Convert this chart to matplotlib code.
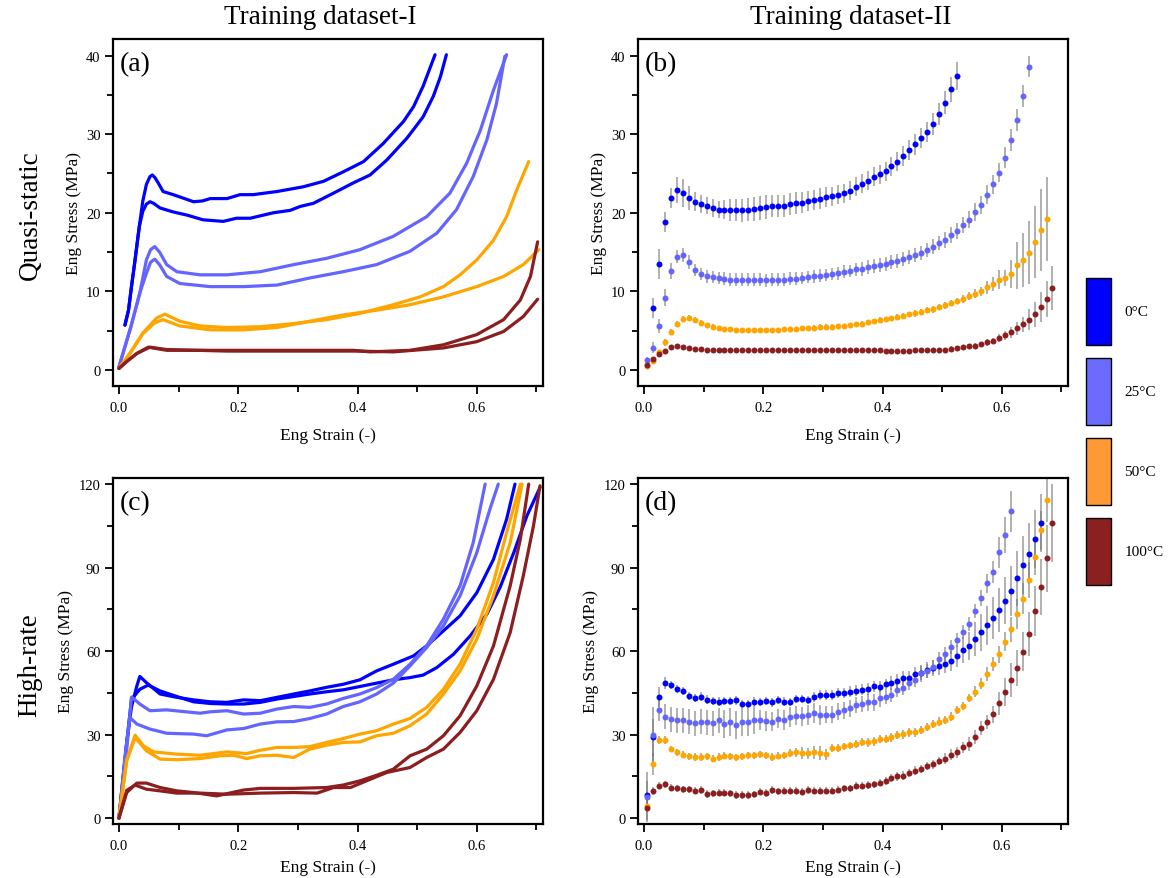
import numpy as np
import matplotlib
matplotlib.use('Agg')
import matplotlib.pyplot as plt
from matplotlib.patches import Patch
from matplotlib.ticker import MultipleLocator

plt.rcParams['font.family'] = ['Liberation Serif', 'DejaVu Serif']

# colours
c_0 = '#0000FF'
c_25 = '#6464FF'
c_50 = '#FFA500'
c_100 = '#8B1E1E'
leg_colors = ['#0000FF', '#6B6BFF', '#FF9933', '#8B2020']
leg_labels = ['0°C', '25°C', '50°C', '100°C']

# ---------------- (a) quasi-static, dataset I ----------------
qs_x_0C_1 = [0.010, 0.016, 0.021, 0.027, 0.034, 0.040, 0.046, 0.052, 0.056, 0.060, 0.065, 0.074, 0.091, 0.110,
             0.125, 0.140, 0.153, 0.181, 0.203, 0.225, 0.265, 0.309, 0.343, 0.376, 0.410, 0.443, 0.477, 0.494,
             0.510, 0.530]
qs_y_0C_1 = [5.7, 7.6, 10.6, 14.0, 18.2, 21.5, 23.6, 24.6, 24.8, 24.5, 23.9, 22.7, 22.3, 21.8,
             21.4, 21.5, 21.8, 21.8, 22.3, 22.3, 22.7, 23.3, 24.0, 25.2, 26.5, 28.8, 31.6, 33.5,
             36.1, 40.1]
qs_x_0C_2 = [0.010, 0.016, 0.021, 0.027, 0.034, 0.040, 0.046, 0.052, 0.058, 0.069, 0.091, 0.114, 0.141, 0.175,
             0.197, 0.220, 0.259, 0.287, 0.304, 0.326, 0.360, 0.393, 0.421, 0.449, 0.483, 0.510, 0.527, 0.539,
             0.549]
qs_y_0C_2 = [5.7, 7.6, 10.6, 14.0, 18.2, 20.2, 21.1, 21.4, 21.2, 20.6, 20.1, 19.7, 19.1, 18.9,
             19.3, 19.3, 20.0, 20.3, 20.8, 21.2, 22.5, 23.8, 24.8, 26.7, 29.5, 32.2, 34.8, 37.3,
             40.1]
qs_x_25C_1 = [0.000, 0.020, 0.035, 0.046, 0.053, 0.060, 0.068, 0.080, 0.097, 0.136, 0.181, 0.237, 0.293, 0.348,
              0.404, 0.460, 0.516, 0.555, 0.583, 0.606, 0.628, 0.650]
qs_y_25C_1 = [0.4, 5.5, 9.8, 14.0, 15.3, 15.7, 15.0, 13.4, 12.5, 12.1, 12.1, 12.5, 13.4, 14.2,
              15.3, 17.0, 19.5, 22.5, 26.3, 30.5, 35.6, 40.1]
qs_x_25C_2 = [0.000, 0.020, 0.035, 0.046, 0.053, 0.060, 0.068, 0.080, 0.102, 0.153, 0.209, 0.265, 0.320, 0.376,
              0.432, 0.488, 0.533, 0.566, 0.594, 0.617, 0.633, 0.647]
qs_y_25C_2 = [0.4, 5.5, 9.8, 12.3, 13.7, 14.1, 13.4, 11.9, 11.0, 10.6, 10.6, 10.8, 11.7, 12.5,
              13.4, 15.1, 17.4, 20.4, 24.6, 29.3, 33.9, 39.9]
qs_x_50C_1 = [0.000, 0.020, 0.040, 0.063, 0.077, 0.102, 0.136, 0.181, 0.237, 0.293, 0.348, 0.404, 0.460, 0.505,
              0.544, 0.572, 0.600, 0.628, 0.650, 0.667, 0.687]
qs_y_50C_1 = [0.2, 2.3, 4.7, 6.6, 7.1, 6.2, 5.6, 5.4, 5.5, 5.9, 6.4, 7.2, 8.3, 9.3,
              10.6, 12.1, 14.0, 16.5, 19.5, 22.9, 26.5]
qs_x_50C_2 = [0.000, 0.020, 0.040, 0.060, 0.074, 0.102, 0.153, 0.209, 0.265, 0.320, 0.376, 0.432, 0.488, 0.544,
              0.600, 0.645, 0.678, 0.704]
qs_y_50C_2 = [0.2, 2.3, 4.6, 6.0, 6.4, 5.6, 5.1, 5.1, 5.4, 6.2, 7.0, 7.6, 8.3, 9.3,
              10.6, 11.9, 13.4, 15.3]
qs_x_100C_1 = [0.000, 0.015, 0.030, 0.049, 0.080, 0.181, 0.293, 0.393, 0.421, 0.488, 0.544, 0.600, 0.645, 0.673,
               0.690, 0.702]
qs_y_100C_1 = [0.2, 1.2, 2.1, 2.9, 2.5, 2.5, 2.5, 2.5, 2.3, 2.5, 3.2, 4.5, 6.4, 8.9, 11.9, 16.3]
qs_x_100C_2 = [0.000, 0.015, 0.030, 0.052, 0.080, 0.181, 0.293, 0.400, 0.460, 0.544, 0.600, 0.645, 0.678, 0.702]
qs_y_100C_2 = [0.2, 1.2, 2.1, 2.9, 2.6, 2.4, 2.4, 2.4, 2.3, 2.8, 3.6, 4.9, 6.8, 9.0]

# ---------------- (c) high-rate, dataset I ----------------
hr_x_0C_1 = [0.000, 0.013, 0.021, 0.030, 0.035, 0.046, 0.069, 0.097, 0.125, 0.153, 0.181, 0.209, 0.237, 0.265,
             0.293, 0.320, 0.348, 0.376, 0.404, 0.432, 0.460, 0.494, 0.516, 0.544, 0.572, 0.600, 0.628, 0.650, 0.664]
hr_y_0C_1 = [0.0, 27.0, 40.0, 47.5, 50.9, 48.7, 44.6, 43.4, 42.5, 41.8, 41.6, 42.5, 42.2, 43.4,
             44.6, 45.7, 47.0, 48.1, 49.7, 52.9, 55.3, 58.3, 61.9, 67.3, 72.7, 81.0, 93.0, 107.4, 120.0]
hr_x_0C_2 = [0.000, 0.013, 0.021, 0.035, 0.049, 0.069, 0.097, 0.125, 0.153, 0.181, 0.209, 0.237, 0.265, 0.293,
             0.320, 0.348, 0.376, 0.404, 0.432, 0.460, 0.488, 0.510, 0.533, 0.561, 0.589, 0.617, 0.639, 0.662,
             0.684, 0.706]
hr_y_0C_2 = [0.0, 27.0, 42.7, 46.3, 47.8, 45.7, 43.7, 41.8, 41.2, 41.0, 41.0, 41.6, 42.8, 43.7,
             44.6, 45.4, 46.1, 47.3, 48.5, 49.7, 50.5, 51.4, 54.1, 58.9, 65.5, 73.3, 82.9, 95.4,
             108.6, 118.8]
hr_x_25C_1 = [0.000, 0.013, 0.021, 0.035, 0.052, 0.080, 0.108, 0.136, 0.153, 0.181, 0.209, 0.237, 0.265, 0.293,
              0.320, 0.348, 0.376, 0.404, 0.432, 0.460, 0.488, 0.516, 0.544, 0.572, 0.594, 0.614]
hr_y_25C_1 = [0.0, 24.7, 43.5, 41.0, 38.6, 38.9, 38.3, 37.7, 38.2, 38.6, 37.4, 37.7, 39.2, 40.1,
              39.8, 41.0, 43.0, 44.6, 46.9, 49.9, 55.3, 61.9, 71.5, 83.5, 99.0, 120.0]
hr_x_25C_2 = [0.000, 0.010, 0.018, 0.030, 0.052, 0.080, 0.125, 0.147, 0.181, 0.209, 0.237, 0.265, 0.293, 0.320,
              0.348, 0.376, 0.404, 0.432, 0.460, 0.488, 0.516, 0.544, 0.572, 0.600, 0.622, 0.636]
hr_y_25C_2 = [0.0, 22.0, 36.2, 33.8, 32.0, 30.5, 30.2, 29.6, 31.7, 32.2, 33.8, 34.6, 34.7, 35.8,
              37.4, 40.1, 41.8, 44.6, 48.5, 54.7, 61.3, 69.1, 79.9, 95.4, 111.0, 120.0]
hr_x_50C_1 = [0.000, 0.013, 0.027, 0.041, 0.058, 0.097, 0.136, 0.181, 0.214, 0.237, 0.265, 0.293, 0.320, 0.348,
              0.376, 0.404, 0.432, 0.460, 0.488, 0.516, 0.544, 0.572, 0.600, 0.628, 0.650, 0.673]
hr_y_50C_1 = [0.0, 21.0, 29.8, 26.0, 23.8, 23.0, 22.6, 23.8, 23.2, 24.4, 25.4, 25.4, 25.7, 27.2,
              28.6, 30.2, 31.4, 33.8, 35.8, 39.8, 46.3, 55.3, 67.9, 84.7, 102.6, 120.0]
hr_x_50C_2 = [0.000, 0.013, 0.027, 0.046, 0.069, 0.097, 0.136, 0.169, 0.192, 0.214, 0.237, 0.265, 0.293, 0.320,
              0.348, 0.376, 0.404, 0.432, 0.460, 0.488, 0.516, 0.544, 0.572, 0.600, 0.628, 0.656, 0.676]
hr_y_50C_2 = [0.0, 20.5, 29.0, 24.2, 21.2, 21.0, 21.4, 22.4, 22.6, 21.4, 22.4, 22.6, 21.8, 24.8,
              26.2, 27.2, 27.4, 29.6, 30.5, 33.2, 37.4, 44.6, 52.9, 64.3, 79.9, 99.0, 120.0]
hr_x_100C_1 = [0.000, 0.013, 0.030, 0.046, 0.069, 0.097, 0.125, 0.164, 0.209, 0.237, 0.293, 0.348, 0.376, 0.404,
               0.432, 0.460, 0.488, 0.516, 0.544, 0.572, 0.600, 0.628, 0.656, 0.673, 0.687]
hr_y_100C_1 = [0.0, 9.2, 12.6, 12.6, 11.0, 9.8, 9.2, 8.0, 10.1, 10.7, 10.7, 11.0, 11.9, 13.4,
               15.4, 17.6, 22.4, 24.8, 29.6, 36.8, 47.5, 61.9, 83.5, 100.2, 120.0]
hr_x_100C_2 = [0.000, 0.013, 0.027, 0.046, 0.069, 0.097, 0.136, 0.181, 0.237, 0.293, 0.332, 0.360, 0.388, 0.415,
               0.449, 0.488, 0.516, 0.544, 0.572, 0.600, 0.628, 0.656, 0.678, 0.695, 0.706]
hr_y_100C_2 = [0.0, 10.0, 11.9, 10.4, 9.8, 9.0, 9.0, 8.6, 9.0, 9.2, 9.0, 11.0, 11.0, 13.4,
               16.4, 18.2, 21.8, 24.8, 30.8, 38.6, 49.9, 66.7, 87.1, 105.0, 119.4]

# ---------------- dataset II: mean +- std on a 0.01 strain grid ----------------
strain_grid = np.arange(69) * 0.01 + 0.005

# (b) quasi-static
qs2_0C = [7.9, 13.5, 18.8, 21.9, 22.9, 22.5, 21.9, 21.4, 21.1, 20.9,
          20.6, 20.4, 20.4, 20.3, 20.3, 20.3, 20.4, 20.5, 20.6, 20.7,
          20.8, 20.8, 20.9, 21.1, 21.2, 21.3, 21.5, 21.6, 21.8, 22.0,
          22.1, 22.3, 22.5, 22.8, 23.3, 23.7, 24.1, 24.6, 24.9, 25.3,
          25.9, 26.5, 27.2, 28.0, 28.7, 29.5, 30.3, 31.3, 32.6, 34.0,
          35.7, 37.4]
qs2_0C_err = [1.3, 1.9, 1.3, 1.3, 1.7, 1.8, 1.5, 1.2, 1.1, 1.1,
              1.1, 1.1, 1.2, 1.4, 1.4, 1.5, 1.5, 1.5, 1.5, 1.5,
              1.4, 1.4, 1.4, 1.4, 1.4, 1.3, 1.3, 1.3, 1.3, 1.3,
              1.2, 1.2, 1.2, 1.2, 1.2, 1.2, 1.2, 1.2, 1.2, 1.2,
              1.2, 1.2, 1.3, 1.3, 1.3, 1.3, 1.3, 1.4, 1.4, 1.5,
              1.6, 1.8]
qs2_25C = [1.3, 2.8, 5.6, 9.2, 12.6, 14.4, 14.6, 13.7, 12.7, 12.2,
           11.9, 11.8, 11.7, 11.6, 11.5, 11.5, 11.5, 11.5, 11.5, 11.5,
           11.4, 11.5, 11.5, 11.5, 11.6, 11.6, 11.7, 11.8, 11.9, 12.0,
           12.1, 12.2, 12.3, 12.5, 12.6, 12.8, 12.8, 13.1, 13.2, 13.3,
           13.5, 13.7, 13.9, 14.1, 14.4, 14.6, 14.9, 15.3, 15.7, 16.2,
           16.5, 17.2, 17.7, 18.4, 19.1, 20.1, 21.0, 22.3, 23.6, 25.1,
           27.0, 29.2, 31.8, 34.9, 38.6]
qs2_25C_err = [0.3, 0.7, 0.9, 1.1, 1.0, 0.8, 0.9, 0.9, 0.8, 0.8,
               0.8, 0.8, 0.8, 0.8, 0.8, 0.8, 0.8, 0.8, 0.8, 0.8,
               0.8, 0.8, 0.8, 0.8, 0.8, 0.8, 0.8, 0.8, 0.8, 0.8,
               0.8, 0.8, 0.8, 0.8, 0.8, 0.8, 0.9, 0.9, 0.9, 0.9,
               0.9, 0.9, 0.9, 0.9, 0.9, 0.9, 0.9, 0.9, 0.9, 0.9,
               1.0, 1.0, 1.0, 1.0, 1.1, 1.1, 1.1, 1.2, 1.2, 1.2,
               1.3, 1.4, 1.4, 1.4, 1.35]
qs2_50C = [0.5, 1.2, 2.3, 3.5, 4.8, 5.9, 6.5, 6.6, 6.4, 6.0,
           5.7, 5.5, 5.3, 5.2, 5.2, 5.1, 5.1, 5.1, 5.1, 5.1,
           5.1, 5.1, 5.1, 5.2, 5.2, 5.2, 5.3, 5.3, 5.4, 5.5,
           5.5, 5.5, 5.6, 5.6, 5.7, 5.8, 5.9, 6.1, 6.2, 6.4,
           6.5, 6.6, 6.8, 6.9, 7.1, 7.2, 7.4, 7.6, 7.7, 8.0,
           8.2, 8.5, 8.8, 9.0, 9.4, 9.7, 10.0, 10.5, 10.9, 11.5,
           11.7, 12.2, 13.3, 14.0, 14.9, 16.3, 17.8, 19.2]
qs2_50C_err = [0.2, 0.3, 0.3, 0.4, 0.4, 0.3, 0.4, 0.4, 0.4, 0.4,
               0.3, 0.3, 0.3, 0.3, 0.3, 0.3, 0.3, 0.3, 0.3, 0.3,
               0.3, 0.3, 0.3, 0.3, 0.3, 0.3, 0.3, 0.3, 0.3, 0.3,
               0.3, 0.3, 0.3, 0.3, 0.3, 0.3, 0.3, 0.3, 0.3, 0.3,
               0.3, 0.3, 0.3, 0.3, 0.3, 0.4, 0.4, 0.4, 0.4, 0.4,
               0.4, 0.4, 0.4, 0.5, 0.5, 0.6, 0.6, 0.8, 0.9, 1.2,
               1.0, 1.8, 3.0, 3.4, 4.0, 4.6, 5.2, 5.4]
qs2_100C = [0.6, 1.4, 2.0, 2.4, 2.9, 3.0, 2.9, 2.8, 2.7, 2.7,
            2.6, 2.6, 2.6, 2.6, 2.6, 2.6, 2.5, 2.5, 2.5, 2.5,
            2.5, 2.5, 2.5, 2.5, 2.5, 2.5, 2.5, 2.5, 2.5, 2.5,
            2.5, 2.5, 2.5, 2.5, 2.6, 2.6, 2.5, 2.5, 2.5, 2.5,
            2.4, 2.4, 2.4, 2.4, 2.4, 2.5, 2.5, 2.5, 2.6, 2.6,
            2.6, 2.7, 2.8, 2.9, 3.0, 3.1, 3.3, 3.5, 3.7, 4.1,
            4.4, 4.8, 5.3, 5.8, 6.4, 7.1, 8.0, 9.0, 10.4]
qs2_100C_err = [0.2, 0.2, 0.2, 0.2, 0.2, 0.2, 0.2, 0.2, 0.2, 0.2,
                0.2, 0.2, 0.2, 0.2, 0.2, 0.2, 0.2, 0.2, 0.2, 0.2,
                0.2, 0.2, 0.2, 0.2, 0.2, 0.2, 0.2, 0.2, 0.2, 0.2,
                0.2, 0.2, 0.2, 0.2, 0.2, 0.2, 0.2, 0.2, 0.2, 0.2,
                0.2, 0.2, 0.2, 0.2, 0.2, 0.2, 0.2, 0.2, 0.2, 0.2,
                0.2, 0.3, 0.3, 0.3, 0.3, 0.3, 0.3, 0.4, 0.4, 0.5,
                0.6, 0.7, 0.8, 1.0, 1.3, 1.6, 1.9, 2.3, 2.8]

# (d) high-rate
hr2_0C = [8.3, 29.0, 43.6, 48.5, 47.9, 46.4, 45.6, 43.8, 43.2, 43.7,
          42.6, 42.2, 41.9, 42.0, 42.0, 42.3, 41.1, 41.1, 41.9, 41.7,
          42.2, 41.6, 42.4, 41.9, 41.7, 42.7, 42.7, 42.5, 43.6, 44.3,
          44.1, 44.2, 45.0, 45.0, 45.5, 45.8, 46.2, 46.4, 47.3, 47.2,
          48.1, 48.5, 49.3, 50.3, 50.5, 51.7, 52.0, 53.2, 53.9, 54.5,
          55.3, 56.5, 58.3, 60.4, 61.9, 64.3, 66.7, 69.3, 71.9, 74.7,
          78.1, 81.5, 86.1, 91.0, 95.0, 100.3, 106.1]
hr2_0C_err = [5.0, 6.5, 3.5, 2.2, 1.5, 1.5, 1.5, 1.5, 1.5, 1.5,
              1.5, 1.5, 1.5, 1.5, 1.5, 1.5, 1.5, 1.5, 1.5, 1.5,
              1.5, 1.5, 1.5, 1.5, 1.5, 1.5, 1.5, 1.5, 1.8, 1.8,
              1.8, 1.8, 1.8, 1.8, 1.8, 2.0, 2.0, 2.0, 2.0, 2.0,
              2.0, 2.5, 2.5, 2.5, 2.5, 2.5, 3.0, 3.0, 3.0, 3.0,
              3.0, 3.5, 4.0, 4.5, 5.0, 6.0, 6.5, 7.0, 7.5, 8.0,
              8.5, 9.0, 10.0, 10.5, 11.0, 10.5, 10.5]
hr2_25C = [7.5, 29.9, 38.8, 36.4, 35.6, 35.1, 35.2, 34.7, 34.1, 34.7,
           34.5, 34.1, 35.1, 33.7, 34.4, 33.4, 34.6, 34.6, 35.3, 35.3,
           34.9, 34.7, 35.8, 35.3, 36.3, 36.8, 36.6, 37.1, 37.7, 37.1,
           37.2, 37.2, 38.3, 38.7, 39.5, 40.6, 41.0, 41.6, 41.6, 43.0,
           43.6, 44.4, 46.1, 46.7, 48.4, 49.6, 52.0, 52.9, 54.4, 57.1,
           58.9, 61.6, 64.0, 66.9, 69.9, 74.3, 79.1, 84.3, 88.3, 95.5,
           101.7, 110.2]
hr2_25C_err = [9.0, 10.0, 4.0, 4.5, 4.5, 4.5, 4.5, 4.5, 4.5, 4.5,
               4.5, 4.5, 4.5, 5.0, 5.0, 5.0, 5.0, 5.0, 5.0, 3.5,
               3.5, 3.5, 3.5, 3.5, 3.5, 3.5, 3.5, 3.5, 3.5, 3.5,
               3.0, 3.0, 3.0, 3.0, 3.0, 3.0, 3.0, 3.0, 3.0, 3.0,
               2.5, 2.5, 2.5, 2.5, 2.5, 2.5, 2.5, 2.5, 2.5, 2.5,
               2.5, 2.5, 2.5, 2.5, 2.5, 2.5, 3.0, 3.5, 4.0, 5.5,
               6.5, 7.5]
hr2_50C = [4.4, 19.4, 28.0, 28.0, 24.8, 23.6, 22.8, 22.2, 22.0, 22.0,
           22.2, 21.4, 22.0, 22.4, 22.2, 21.8, 22.2, 22.6, 22.6, 23.0,
           22.6, 22.0, 22.4, 22.6, 23.4, 23.6, 23.4, 23.3, 23.6, 23.4,
           23.0, 25.2, 25.2, 25.8, 26.2, 26.6, 27.4, 27.2, 27.6, 28.4,
           28.4, 29.0, 29.8, 30.1, 30.8, 30.8, 31.7, 32.8, 33.8, 34.7,
           35.3, 36.5, 38.8, 40.4, 43.1, 45.4, 48.3, 51.7, 55.3, 58.9,
           63.4, 67.9, 73.3, 78.9, 85.6, 93.7, 103.4, 114.3]
hr2_50C_err = [1.0, 4.0, 1.5, 1.5, 1.0, 1.3, 1.3, 1.3, 1.3, 1.3,
               1.3, 1.3, 1.3, 1.3, 1.3, 1.3, 1.3, 1.3, 1.3, 1.3,
               1.3, 1.3, 1.3, 1.3, 1.3, 1.5, 2.0, 2.0, 2.5, 2.5,
               2.0, 1.3, 1.3, 1.3, 1.3, 1.5, 1.5, 1.5, 1.5, 1.5,
               1.5, 1.5, 1.5, 1.5, 1.5, 1.5, 1.5, 1.5, 1.5, 1.5,
               1.5, 1.5, 1.5, 1.5, 1.5, 2.0, 2.0, 2.5, 2.5, 3.0,
               3.5, 4.5, 5.5, 5.5, 6.5, 6.5, 7.0, 8.0]
hr2_100C = [3.5, 9.7, 11.6, 12.1, 11.0, 10.7, 10.3, 10.4, 9.8, 10.1,
            8.7, 8.9, 9.2, 9.1, 8.9, 8.3, 8.3, 8.3, 8.5, 9.5,
            9.0, 10.1, 9.7, 9.8, 9.9, 9.9, 9.5, 10.1, 9.8, 9.9,
            9.8, 9.9, 10.2, 10.7, 10.7, 11.6, 11.6, 11.9, 12.2, 12.8,
            13.4, 14.5, 15.0, 15.3, 16.2, 17.1, 17.6, 18.8, 19.3, 20.6,
            21.4, 22.8, 23.6, 25.4, 26.6, 29.2, 32.3, 34.7, 37.3, 41.2,
            45.2, 49.6, 53.9, 59.8, 66.1, 74.5, 83.1, 93.3, 106.1]
hr2_100C_err = [4.0, 1.5, 1.3, 1.3, 1.3, 1.3, 1.3, 1.3, 1.3, 1.3,
                1.3, 1.3, 1.3, 1.3, 1.3, 1.3, 1.3, 1.3, 1.3, 1.3,
                1.3, 1.3, 1.3, 1.3, 1.3, 1.3, 1.3, 1.3, 1.3, 1.3,
                1.3, 1.3, 1.3, 1.3, 1.3, 1.3, 1.3, 1.3, 1.3, 1.3,
                1.5, 1.5, 1.5, 1.5, 1.5, 1.5, 1.5, 1.5, 1.5, 1.5,
                2.0, 2.0, 2.0, 2.0, 2.5, 2.5, 2.5, 2.5, 3.0, 4.0,
                5.0, 6.0, 6.5, 7.0, 8.0, 9.0, 10.0, 12.0, 14.0]

# ------------------------------------------------------------------
fig = plt.figure(figsize=(11.71, 8.79), dpi=100)
W, H = 1171.0, 879.0
ax_a = fig.add_axes([113 / W, 1 - 387 / H, 430 / W, 347 / H])
ax_b = fig.add_axes([638 / W, 1 - 387 / H, 430 / W, 347 / H])
ax_c = fig.add_axes([113 / W, 1 - 825 / H, 430 / W, 346 / H])
ax_d = fig.add_axes([638 / W, 1 - 825 / H, 430 / W, 346 / H])


def style_ax(ax, top, major, label, xpad):
    ax.set_xlim(-0.01, 0.711)
    if top == 40:
        ax.set_ylim(-2.04, 42.1)
    else:
        ax.set_ylim(-2.1, 122.2)
    ax.xaxis.set_major_locator(MultipleLocator(0.2))
    ax.xaxis.set_minor_locator(MultipleLocator(0.1))
    ax.yaxis.set_major_locator(MultipleLocator(major))
    ax.yaxis.set_minor_locator(MultipleLocator(major / 2))
    ax.xaxis.set_major_formatter(plt.FormatStrFormatter('%.1f'))
    ax.tick_params(which='both', direction='out', width=1.3, top=False, right=False, labelsize=10.5)
    ax.tick_params(which='major', length=5.5)
    ax.tick_params(which='minor', length=4)
    ax.tick_params(axis='x', which='major', pad=5)
    for s in ax.spines.values():
        s.set_linewidth(1.6)
    ax.set_xlabel('Eng Strain (-)', fontsize=12.5, labelpad=xpad)
    ax.set_ylabel('Eng Stress (MPa)', fontsize=12.5, labelpad=3)
    ax.text(0.015, 0.965, label, transform=ax.transAxes, fontsize=20, va='top', ha='left')


lw = 2.3
kw = dict(lw=lw, solid_joinstyle='round', solid_capstyle='round')
# (a)
ax_a.plot(qs_x_0C_1, qs_y_0C_1, color=c_0, **kw)
ax_a.plot(qs_x_0C_2, qs_y_0C_2, color=c_0, **kw)
ax_a.plot(qs_x_25C_1, qs_y_25C_1, color=c_25, **kw)
ax_a.plot(qs_x_25C_2, qs_y_25C_2, color=c_25, **kw)
ax_a.plot(qs_x_50C_1, qs_y_50C_1, color=c_50, **kw)
ax_a.plot(qs_x_50C_2, qs_y_50C_2, color=c_50, **kw)
ax_a.plot(qs_x_100C_1, qs_y_100C_1, color=c_100, **kw)
ax_a.plot(qs_x_100C_2, qs_y_100C_2, color=c_100, **kw)
style_ax(ax_a, 40, 10, '(a)', 10)

# (c)
ax_c.plot(hr_x_0C_1, hr_y_0C_1, color=c_0, **kw)
ax_c.plot(hr_x_0C_2, hr_y_0C_2, color=c_0, **kw)
ax_c.plot(hr_x_25C_1, hr_y_25C_1, color=c_25, **kw)
ax_c.plot(hr_x_25C_2, hr_y_25C_2, color=c_25, **kw)
ax_c.plot(hr_x_50C_1, hr_y_50C_1, color=c_50, **kw)
ax_c.plot(hr_x_50C_2, hr_y_50C_2, color=c_50, **kw)
ax_c.plot(hr_x_100C_1, hr_y_100C_1, color=c_100, **kw)
ax_c.plot(hr_x_100C_2, hr_y_100C_2, color=c_100, **kw)
style_ax(ax_c, 120, 30, '(c)', 5)

# (b) and (d) with error bars
ecol = (0.45, 0.45, 0.45, 0.6)


def err_series(ax, start, vals, errs, col):
    x = strain_grid[start:start + len(vals)]
    ax.errorbar(x, vals, yerr=errs, fmt='o', ms=4.3, color=col, mec=col, mew=0,
                ecolor=ecol, elinewidth=1.3, capsize=2.3, capthick=0.9)


err_series(ax_b, 1, qs2_0C, qs2_0C_err, c_0)
err_series(ax_b, 0, qs2_25C, qs2_25C_err, c_25)
err_series(ax_b, 0, qs2_50C, qs2_50C_err, c_50)
err_series(ax_b, 0, qs2_100C, qs2_100C_err, c_100)
style_ax(ax_b, 40, 10, '(b)', 10)

err_series(ax_d, 0, hr2_0C, hr2_0C_err, c_0)
err_series(ax_d, 0, hr2_25C, hr2_25C_err, c_25)
err_series(ax_d, 0, hr2_50C, hr2_50C_err, c_50)
err_series(ax_d, 0, hr2_100C, hr2_100C_err, c_100)
style_ax(ax_d, 120, 30, '(d)', 5)

# column / row titles
fig.text(320 / W, 1 - 18 / H, 'Training dataset-I', fontsize=19.5, ha='center', va='center')
fig.text(851 / W, 1 - 18 / H, 'Training dataset-II', fontsize=19.5, ha='center', va='center')
fig.text(30 / W, 1 - 215 / H, 'Quasi-static', fontsize=19.5, ha='center', va='center', rotation=90)
fig.text(30 / W, 1 - 665 / H, 'High-rate', fontsize=19.5, ha='center', va='center', rotation=90)

# temperature legend
handles = [Patch(facecolor=c, edgecolor='black', linewidth=1.0) for c in leg_colors]
fig.legend(handles, leg_labels, loc='upper left', bbox_to_anchor=(1086 / W, 1 - 279 / H),
           frameon=False, fontsize=11, handlelength=1.62, handleheight=6.4,
           labelspacing=0.83, handletextpad=0.9, borderpad=0, borderaxespad=0)

fig.savefig('out.png', dpi=100)
